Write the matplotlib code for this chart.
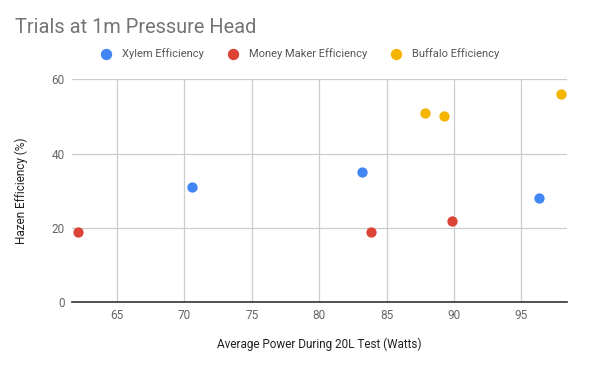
import matplotlib.pyplot as plt

plt.rcParams['font.family'] = ['Roboto', 'DejaVu Sans']

# --- Data ---
xylem_power = [70.6, 83.15, 96.3]
xylem_eff = [31, 35, 28]
money_power = [62.1, 83.85, 89.85]
money_eff = [19, 19, 22]
buffalo_power = [87.85, 89.25, 97.9]
buffalo_eff = [51, 50, 56]

series = [
    ('Xylem Efficiency', xylem_power, xylem_eff, '#4285f4'),
    ('Money Maker Efficiency', money_power, money_eff, '#db4437'),
    ('Buffalo Efficiency', buffalo_power, buffalo_eff, '#f4b400'),
]

# --- Plotting Code ---
fig = plt.figure(figsize=(5.94, 3.66), dpi=100)
ax = fig.add_axes([0.1207, 0.174, 0.8343, 0.6093])

for name, xs, ys, col in series:
    ax.scatter(xs, ys, s=55, color=col, label=name, zorder=3, linewidths=0)

ax.set_xlim(61.64, 98.4)
ax.set_ylim(0, 60)
ax.set_xticks([65, 70, 75, 80, 85, 90, 95])
ax.set_yticks([0, 20, 40, 60])
ax.grid(True, color='#cccccc', linewidth=0.9)
ax.set_axisbelow(True)
for side in ['top', 'right', 'left']:
    ax.spines[side].set_visible(False)
ax.spines['bottom'].set_color('#333333')
ax.spines['bottom'].set_linewidth(1.2)
ax.spines['bottom'].set_zorder(2)
ax.tick_params(length=0, labelsize=8.5, labelcolor='#666666')
ax.tick_params(axis='x', pad=5)
ax.tick_params(axis='y', pad=5)

ax.set_xlabel('Average Power During 20L Test (Watts)', fontsize=8.5, color='#222222', labelpad=11)
ax.set_ylabel('Hazen Efficiency (%)', fontsize=8.5, color='#222222', labelpad=17)

fig.text(0.026, 0.91, 'Trials at 1m Pressure Head', fontsize=14.4, color='#757575', va='baseline')

fig.legend(loc='center', bbox_to_anchor=(0.5, 0.853), ncol=3, frameon=False,
           fontsize=8, labelcolor='#555555', handletextpad=0.45, columnspacing=1.6,
           markerscale=1.1, scatterpoints=1)

plt.savefig('out.png', dpi=100)
